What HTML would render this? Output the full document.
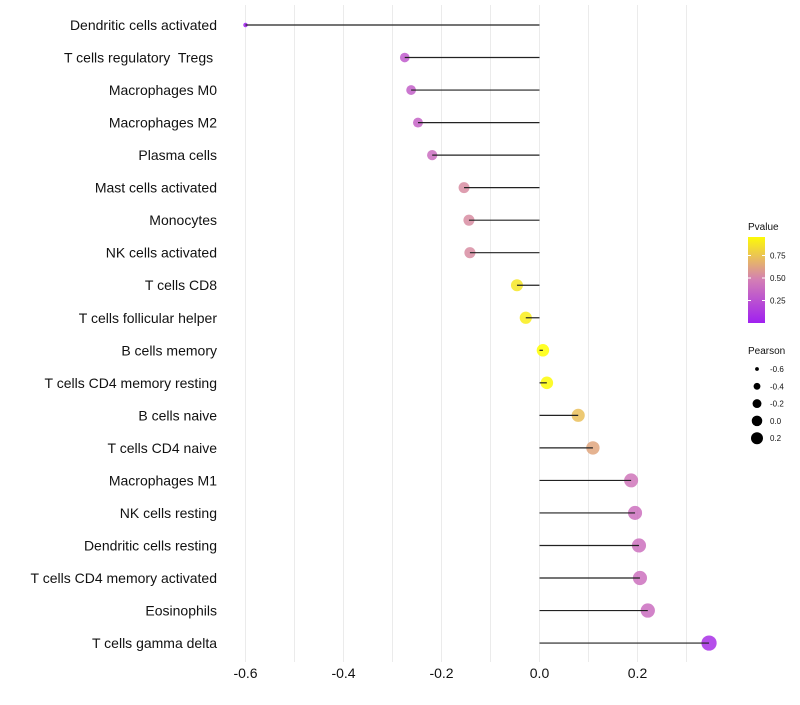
<!DOCTYPE html>
<html><head><meta charset="utf-8"><style>
body{margin:0;background:#fff;}
text{font-family:"Liberation Sans",sans-serif;white-space:pre;}
</style></head><body>
<svg id="chart" width="800" height="700" xmlns="http://www.w3.org/2000/svg">
<g id="grid"></g>
<g id="marks"></g>
<g id="ylabels"></g>
<g id="xlabels"></g>
<g id="legend"></g>
</svg>
<script>
const categories=["Dendritic cells activated","T cells regulatory  Tregs ","Macrophages M0","Macrophages M2","Plasma cells","Mast cells activated","Monocytes","NK cells activated","T cells CD8","T cells follicular helper","B cells memory","T cells CD4 memory resting","B cells naive","T cells CD4 naive","Macrophages M1","NK cells resting","Dendritic cells resting","T cells CD4 memory activated","Eosinophils","T cells gamma delta"];
const pearson=[-0.6,-0.275,-0.262,-0.248,-0.219,-0.154,-0.144,-0.142,-0.046,-0.028,0.007,0.015,0.079,0.109,0.187,0.195,0.203,0.205,0.221,0.346];
const pvalue=[0.0,0.3,0.33,0.35,0.4,0.55,0.55,0.55,0.9,0.93,1.0,0.98,0.75,0.65,0.45,0.42,0.42,0.42,0.4,0.08];
const xTicks=[-0.6,-0.4,-0.2,0.0,0.2];
const legendSizes=[-0.6,-0.4,-0.2,0.0,0.2];
const legendP=[0.75,0.50,0.25];

const NS="http://www.w3.org/2000/svg";
const x=v=>539.5+(v)*490;
const y=i=>25+i*32.53;
const rad=v=>Math.sqrt(Math.max(2,5+(v+0.6)*56));
function lerp(a,b,t){return a.map((c,k)=>Math.round(c+(b[k]-c)*t));}
function col(p){const a=[160,32,240],m=[212,128,180],b=[255,255,0];
 const c=p<0.5?lerp(a,m,p/0.5):lerp(m,b,(p-0.5)/0.5);return `rgb(${c.join(',')})`;}
function mk(tag,attrs,parent){const e=document.createElementNS(NS,tag);for(const k in attrs)e.setAttribute(k,attrs[k]);parent.appendChild(e);return e;}
const grid=document.getElementById('grid'),marks=document.getElementById('marks'),yl=document.getElementById('ylabels'),xl=document.getElementById('xlabels'),lg=document.getElementById('legend');
for(let k=-6;k<=3;k++){const v=k/10;const g=mk('line',{x1:x(v),x2:x(v),y1:5,y2:662,stroke:'#ebebeb','stroke-width':1},grid);

}
categories.forEach((c,i)=>{
 const d=mk('circle',{cx:x(pearson[i]),cy:y(i),r:rad(pearson[i]),fill:col(pvalue[i]),'fill-opacity':0.85},marks);
 
 
 const s=mk('line',{x1:x(0),x2:x(pearson[i]),y1:y(i),y2:y(i),stroke:'#222','stroke-width':1.2},marks);
 
 
 const t=mk('text',{x:217,y:y(i)+5,'text-anchor':'end','font-size':14,fill:'#111','xml:space':'preserve'},yl);t.textContent=c;
 
 
});
xTicks.forEach(v=>{const t=mk('text',{x:x(v),y:678,'text-anchor':'middle','font-size':14,fill:'#111'},xl);t.textContent=v.toFixed(1);
 
 });
const defs=mk('defs',{},lg);const gr=mk('linearGradient',{id:'pg',x1:0,y1:1,x2:0,y2:0},defs);
[0,0.25,0.5,0.75,1].forEach(p=>mk('stop',{offset:p,'stop-color':col(p*0.98)},gr));
let t=mk('text',{x:748,y:230,'font-size':10,fill:'#111'},lg);t.textContent='Pvalue';


const bar=mk('rect',{x:748,y:237,width:17,height:86,fill:'url(#pg)'},lg);


legendP.forEach(p=>{const yy=323-p*90;
 mk('line',{x1:748,x2:751,y1:yy,y2:yy,stroke:'#fff'},lg);mk('line',{x1:762,x2:765,y1:yy,y2:yy,stroke:'#fff'},lg);
 const tt=mk('text',{x:770,y:yy+3,'font-size':8,fill:'#111'},lg);tt.textContent=p.toFixed(2);
 
 });
t=mk('text',{x:748,y:354,'font-size':10,fill:'#111'},lg);t.textContent='Pearson';


legendSizes.forEach((v,i)=>{const yy=369+i*17.3;
 const c=mk('circle',{cx:757,cy:yy,r:rad(v)*0.85,fill:'#000'},lg);
 
 
 const tt=mk('text',{x:770,y:yy+3,'font-size':8,fill:'#111'},lg);tt.textContent=v.toFixed(1);
 
 });
</script>
</body></html>
